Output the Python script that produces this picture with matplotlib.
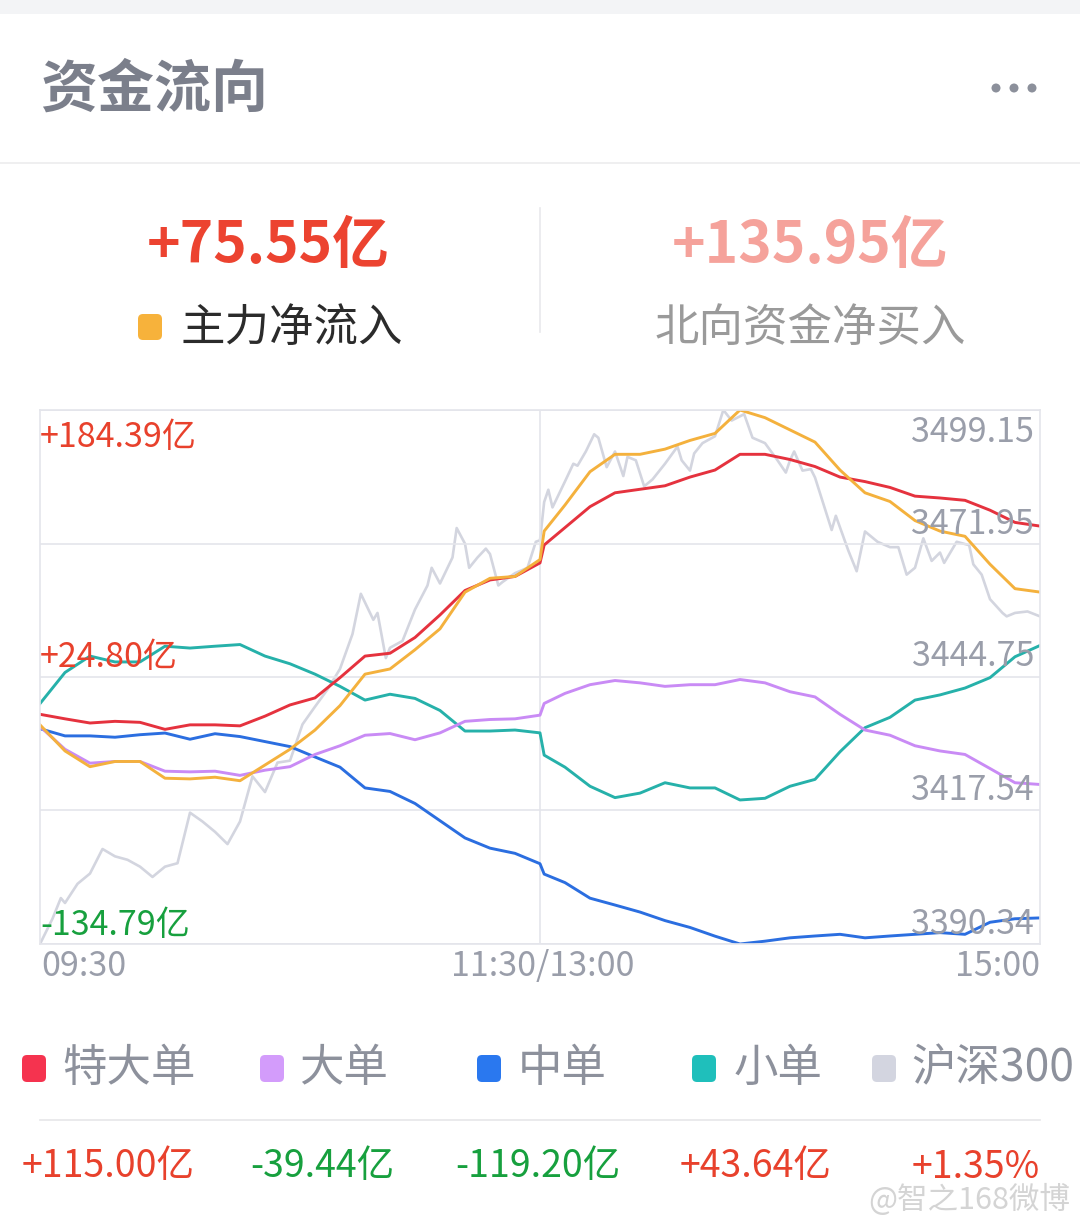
import matplotlib.pyplot as plt
import matplotlib.patches as mpatches
from matplotlib.transforms import IdentityTransform
import numpy as np

plt.rcParams['font.family'] = ['Noto Sans CJK SC', 'DejaVu Sans']

W, H = 1080, 1229

# minutes since 09:30 (trading minutes, 11:30 and 13:00 share minute 120)
minutes = [0, 6, 12, 18, 24, 30, 36, 42, 48, 54,
           60, 66, 72, 78, 84, 90, 96, 102, 108, 114,
           120, 121,
           126, 132, 138, 144, 150, 156, 162, 168, 174, 180,
           186, 192, 198, 204, 210, 216, 222, 228, 234, 240]

# net inflow, 亿
super_large = [2.5, -0.2, -2.7, -1.7, -2.3, -6.5, -3.8, -3.8, -4.4, 1.4,
               8.1, 12.3, 24.4, 37.3, 39.0, 48.4, 61.9, 76.5, 82.8, 84.9,
               93.0, 103.7,
               114.1, 126.6, 134.9, 137.0, 139.1, 144.3, 148.5, 157.9, 157.9, 154.8,
               150.6, 144.3, 141.6, 138.1, 132.9, 131.8, 130.4, 124.5, 117.2, 115.0]
large = [-4.8, -18.4, -26.7, -25.7, -25.7, -31.5, -31.9, -31.5, -34.0, -30.9,
         -28.8, -21.5, -16.3, -10.0, -9.0, -12.7, -8.6, -1.7, -0.6, -0.2,
         2.0, 9.0,
         15.0, 20.2, 22.7, 21.3, 19.2, 20.2, 20.2, 23.3, 21.3, 16.0,
         12.9, 2.5, -6.9, -10.0, -16.3, -19.4, -21.5, -29.9, -38.4, -39.44]
main_force = [-3.8, -19.4, -28.8, -25.7, -25.7, -35.7, -36.1, -35.1, -37.2, -27.8,
              -18.4, -6.9, 7.7, 26.5, 29.6, 41.1, 53.6, 75.5, 83.8, 84.9,
              95.0, 112.0,
              127.6, 147.5, 157.9, 157.9, 161.0, 166.2, 170.4, 184.39, 179.8, 172.5,
              165.2, 148.5, 134.9, 129.7, 118.3, 112.0, 108.9, 92.2, 77.6, 75.55]
medium = [-6.1, -10.4, -10.4, -11.2, -9.7, -8.7, -12.4, -9.1, -10.8, -13.8,
          -16.8, -23.0, -29.1, -41.5, -43.6, -50.8, -61.1, -71.4, -77.5, -80.6,
          -86.8, -93.0,
          -98.1, -107.4, -111.5, -115.7, -120.8, -124.9, -130.1, -134.79, -133.1, -131.1,
          -130.0, -129.0, -131.1, -130.0, -129.0, -128.0, -129.0, -121.8, -119.7, -119.20]
small = [8.9, 27.5, 37.3, 33.8, 33.8, 43.2, 42.1, 43.2, 44.2, 37.3,
         32.7, 26.5, 19.2, 11.0, 14.5, 12.0, 4.8, -7.5, -7.5, -6.9,
         -8.6, -21.9,
         -29.1, -40.5, -47.3, -44.6, -38.4, -41.5, -41.5, -48.7, -47.7, -40.5,
         -36.4, -19.9, -5.5, 0.7, 11.0, 14.1, 18.2, 24.4, 36.9, 43.64]

# 沪深300 index
csi_minutes = [0, 3, 5, 6, 9, 12, 15, 18, 21, 24, 27, 30, 33, 36, 39, 42, 45, 48, 51, 54,
               57, 60, 63, 66, 69, 72, 75, 77, 80, 81, 83, 84, 87, 90, 93, 94, 96, 99, 100,
               102, 103, 105, 107, 108, 110, 111, 114, 117, 119, 120, 121, 122, 123, 126,
               128, 129, 131, 133, 134, 136, 138, 140, 141, 143, 145, 147, 150, 153, 154,
               156, 157, 159, 162, 164, 166, 169, 171, 174, 177, 179, 180, 181, 183, 185,
               186, 190, 191, 194, 196, 198, 201, 204, 206, 208, 210, 212, 214, 216, 217,
               220, 223, 224, 226, 228, 231, 232, 234, 237, 240]
csi300 = [3390.34, 3395.5, 3399.7, 3398.7, 3402.6, 3404.7, 3409.7, 3408.2, 3407.5, 3406.1,
          3404.0, 3406.1, 3406.8, 3417.1, 3415.3, 3413.2, 3410.7, 3415.3, 3424.5, 3421.3,
          3427.3, 3427.7, 3435.1, 3438.7, 3442.2, 3446.4, 3453.5, 3461.7, 3456.4, 3457.8,
          3448.6, 3450.7, 3452.1, 3458.5, 3463.4, 3467.0, 3463.8, 3469.1, 3475.1,
          3471.9, 3467.0, 3469.1, 3470.9, 3469.8, 3463.4, 3464.1, 3465.9, 3467.0, 3472.3,
          3472.6, 3480.4, 3482.9, 3479.3, 3484.6,
          3488.2, 3487.8, 3490.7, 3494.2, 3493.5, 3487.5, 3490.7, 3485.7, 3489.6, 3488.9,
          3483.6, 3485.0, 3488.2, 3491.7, 3488.9, 3486.8, 3490.3, 3492.4, 3493.8, 3499.15,
          3497.0, 3498.3, 3493.5, 3492.4, 3488.9, 3486.4, 3488.9, 3490.7, 3486.8, 3487.1,
          3485.4, 3474.7, 3477.6, 3470.5, 3466.3, 3474.4, 3472.3, 3471.2, 3471.2, 3465.6,
          3467.0, 3473.0, 3468.4, 3470.1, 3468.0, 3472.3, 3471.6, 3467.7, 3465.6, 3460.6,
          3457.8, 3457.1, 3457.8, 3458.1, 3457.1]

flow_lo, flow_hi = -134.79, 184.39
csi_lo, csi_hi = 3390.34, 3499.15
flow_labels = ['+184.39亿', '+24.80亿', '-134.79亿']
csi_labels = ['3499.15', '3471.95', '3444.75', '3417.54', '3390.34']
x_labels = ['09:30', '11:30/13:00', '15:00']

legend_names = ['特大单', '大单', '中单', '小单', '沪深300']
legend_values = ['+115.00亿', '-39.44亿', '-119.20亿', '+43.64亿', '+1.35%']

RED_TXT = '#e8412c'
GREEN_TXT = '#17a03e'
c_super, c_large, c_mid, c_small, c_csi = '#e5323e', '#c98bf5', '#2b6ee0', '#26b1aa', '#d3d5df'
c_main = '#f4b13d'
GRID = '#e4e5eb'


def fx(x):
    return x / W


def fy(y):
    return 1 - y / H


fig = plt.figure(figsize=(W / 100, H / 100), dpi=100)
fig.patch.set_facecolor('white')


def rbox(x, y, w, h, color, r=5):
    p = mpatches.FancyBboxPatch((x, H - y - h), w, h, boxstyle=f'round,pad=0,rounding_size={r}',
                                transform=IdentityTransform(), facecolor=color, edgecolor='none')
    fig.patches.append(p)


# top band and separators
fig.patches.append(mpatches.Rectangle((0, H - 14), W, 14, transform=IdentityTransform(),
                                      facecolor='#f3f4f6', edgecolor='none'))
fig.add_artist(plt.Line2D([0, 1], [fy(163), fy(163)], color='#ececee', lw=1.2))
fig.add_artist(plt.Line2D([fx(540), fx(540)], [fy(208), fy(332)], color='#e9e9ec', lw=1.2))
fig.add_artist(plt.Line2D([fx(40), fx(1040)], [fy(1120), fy(1120)], color='#e6e6e9', lw=1.2))

# header
fig.text(fx(40), fy(90), '资金流向', fontsize=41, weight='bold', color='#7b7f8b', va='center')
for dx in [996, 1014, 1032]:
    fig.patches.append(mpatches.Circle((dx, H - 88), 4.5, transform=IdentityTransform(),
                                       facecolor='#8c909b', edgecolor='none'))

fig.text(fx(268), fy(246), '+75.55亿', fontsize=41, weight='bold', color='#ec4330',
         ha='center', va='center')
fig.text(fx(810), fy(246), '+135.95亿', fontsize=41, weight='bold', color='#f5a29b',
         ha='center', va='center')
rbox(138, 314, 24, 26, '#f7b23b', r=5)
fig.text(fx(181), fy(328), '主力净流入', fontsize=32, color='#2b2b2b', va='center')
fig.text(fx(810), fy(328), '北向资金净买入', fontsize=32, color='#9a9a9a', ha='center', va='center')

# chart
ax = fig.add_axes([fx(40), fy(944), fx(1000), 534 / H])
ax2 = ax.twinx()
ax.set_zorder(ax2.get_zorder() + 1)
ax.patch.set_visible(False)

ax2.plot(csi_minutes, csi300, color=c_csi, lw=1.9, solid_joinstyle='round')
ax2.set_ylim(csi_lo, csi_hi)
ax2.set_yticks([])
for s in ax2.spines.values():
    s.set_visible(False)

ax.plot(minutes, small, color=c_small, lw=2.1)
ax.plot(minutes, medium, color=c_mid, lw=2.1)
ax.plot(minutes, large, color=c_large, lw=2.1)
ax.plot(minutes, super_large, color=c_super, lw=2.1)
ax.plot(minutes, main_force, color=c_main, lw=2.1)

ax.set_xlim(0, 240)
ax.set_ylim(flow_lo, flow_hi)
ax.set_yticks(np.linspace(flow_lo, flow_hi, 5))
ax.set_xticks([120])
ax.grid(True, color=GRID, lw=1.2)
ax.tick_params(length=0, labelleft=False, labelbottom=False)
for s in ax.spines.values():
    s.set_color(GRID)
    s.set_linewidth(1.2)

# axis labels
fs = 24.5
fig.text(fx(40), fy(437), flow_labels[0], fontsize=fs, color=RED_TXT, va='center')
fig.text(fx(40), fy(657), flow_labels[1], fontsize=fs, color=RED_TXT, va='center')
fig.text(fx(40), fy(925), flow_labels[2], fontsize=fs, color=GREEN_TXT, va='center')
for lab, yy in zip(csi_labels, [432, 524, 657, 791, 925]):
    fig.text(fx(1034), fy(yy), lab, fontsize=fs, color='#9a9eaa', ha='right', va='center')
fig.text(fx(41), fy(966), x_labels[0], fontsize=fs, color='#9a9eaa', va='center')
fig.text(fx(543), fy(966), x_labels[1], fontsize=fs, color='#9a9eaa', ha='center', va='center')
fig.text(fx(1040), fy(966), x_labels[2], fontsize=fs, color='#9a9eaa', ha='right', va='center')

# legend
sq_x = [22, 260, 477, 692, 872]
txt_x = [62, 299, 518, 734, 911]
sq_c = ['#f5334f', '#d39cfb', '#2a78ef', '#1fbfbb', '#d3d5e0']
for sx, tx, name, c in zip(sq_x, txt_x, legend_names, sq_c):
    rbox(sx, 1055, 24, 27, c, r=5)
    fig.text(fx(tx), fy(1068), name, fontsize=32, color='#8d919c', va='center')

val_x = [22, 250, 455, 680, 912]
for vx, v in zip(val_x, legend_values):
    col = GREEN_TXT if v.startswith('-') else RED_TXT
    fig.text(fx(vx), fy(1167), v, fontsize=27, color=col, va='center')

fig.text(fx(1070), fy(1200), '@智之168微博', fontsize=22, color='#d4d4d4', ha='right', va='center')

fig.savefig('out.png', dpi=100, facecolor='white')
